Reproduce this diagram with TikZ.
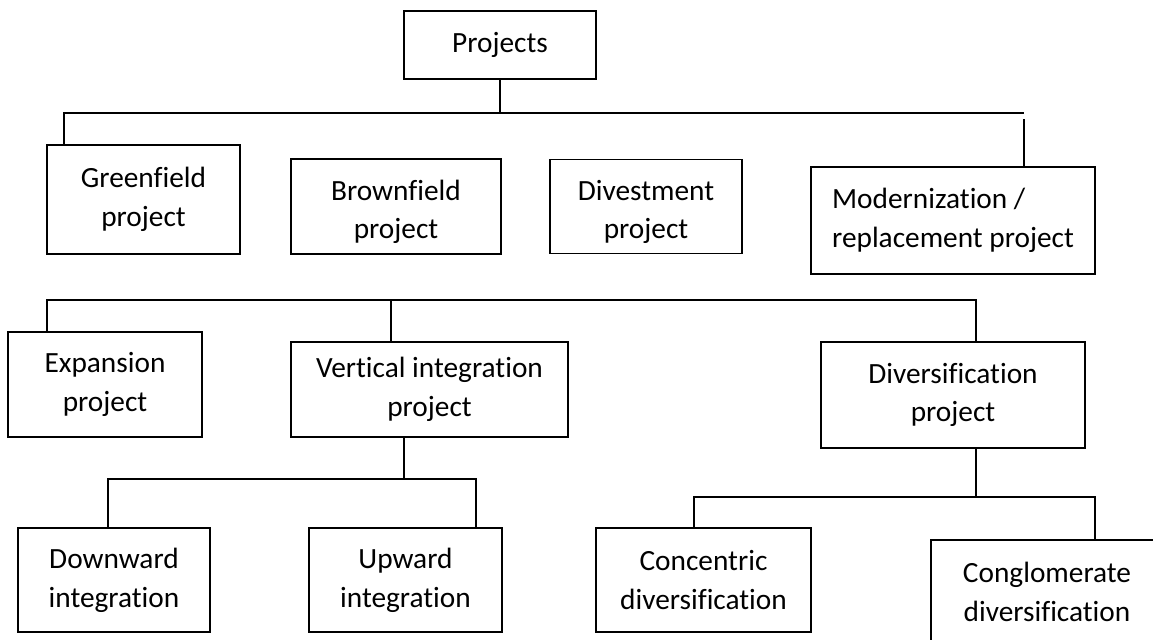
\documentclass[tikz,border=0pt]{standalone}
\usepackage{fontspec}
\setmainfont{Carlito}[Ligatures=CommonOff]
\usepackage{tikz}

\begin{document}
\begin{tikzpicture}[x=0.75pt,y=-0.75pt]
        \tikzset{box style/.style={draw, line width=1pt, rectangle, inner sep=2pt, align=center, font=\fontsize{22}{29}\selectfont}}
        \tikzset{low text/.style={align=center, inner sep=0pt, yshift=-4pt, font=\fontsize{22}{29}\selectfont}}
        \tikzset{line style/.style={line width=1pt}}

        \clip (0,0) rectangle (1153,639);

        % top level
        \node[box style, minimum width=144pt, minimum height=51pt] (proj) at (500,45) {Projects};

        \node[box style, minimum width=144.75pt, minimum height=81.75pt] (green) at (143.5,199.5) {Greenfield\\project};
        \node[box style, minimum width=157.5pt, minimum height=71.25pt, label={[low text]center:{Brownfield\\project}}] (brown) at (396,206.5) {};
        \node[box style, minimum width=144pt, minimum height=70.5pt, label={[low text]center:{Divestment\\project}}] (divest) at (646,206.5) {};
        \node[box style, align=left, minimum width=213pt, minimum height=80.25pt] (modern) at (953,220.5) {Modernization /\\replacement project};

        % second row
        \node[box style, minimum width=145.5pt, minimum height=78.75pt] (expan) at (105,384.5) {Expansion\\project};
        \node[box style, minimum width=207.75pt, minimum height=71.25pt] (vint) at (429.5,389.5) {Vertical integration\\project};
        \node[box style, minimum width=198pt, minimum height=79.5pt] (divers) at (953,395) {Diversification\\project};

        % bottom row
        \node[box style, minimum width=144pt, minimum height=78pt] (down) at (114,580) {Downward\\integration};
        \node[box style, minimum width=144.75pt, minimum height=78pt] (up) at (405.5,580) {Upward\\integration};
        \node[box style, minimum width=161.25pt, minimum height=78pt] (conc) at (703.5,580) {Concentric\\diversification};
        \node[box style, minimum width=174pt, minimum height=78pt] (cong) at (1047,592) {Conglomerate\\diversification};

        % connectors
        \coordinate (b1w) at (64,113);
        \coordinate (b1e) at (1024,113);
        \coordinate (b1g) at (1024,119);
        \draw[line style] (proj.south) -- (proj.south |- b1w);
        \draw[line style] (green.north -| b1w) -- (b1w) -- (b1e);
        \draw[line style] (modern.north -| b1g) -- (b1g);

        \coordinate (b2w) at (47,300);
        \coordinate (b2m) at (391,300);
        \coordinate (b2e) at (976,300);
        \draw[line style] (expan.north -| b2w) -- (b2w) -- (b2e) -- (divers.north -| b2e);
        \draw[line style] (b2m) -- (vint.north -| b2m);

        \coordinate (b3) at (404,479);
        \coordinate (b3w) at (108,479);
        \coordinate (b3e) at (476,479);
        \draw[line style] (vint.south -| b3) -- (b3);
        \draw[line style] (down.north -| b3w) -- (b3w) -- (b3e) -- (up.north -| b3e);

        \coordinate (b4) at (976,497);
        \coordinate (b4w) at (694,497);
        \coordinate (b4e) at (1095,497);
        \draw[line style] (divers.south -| b4) -- (b4);
        \draw[line style] (conc.north -| b4w) -- (b4w) -- (b4e) -- (cong.north -| b4e);
    \end{tikzpicture}
\end{document}
